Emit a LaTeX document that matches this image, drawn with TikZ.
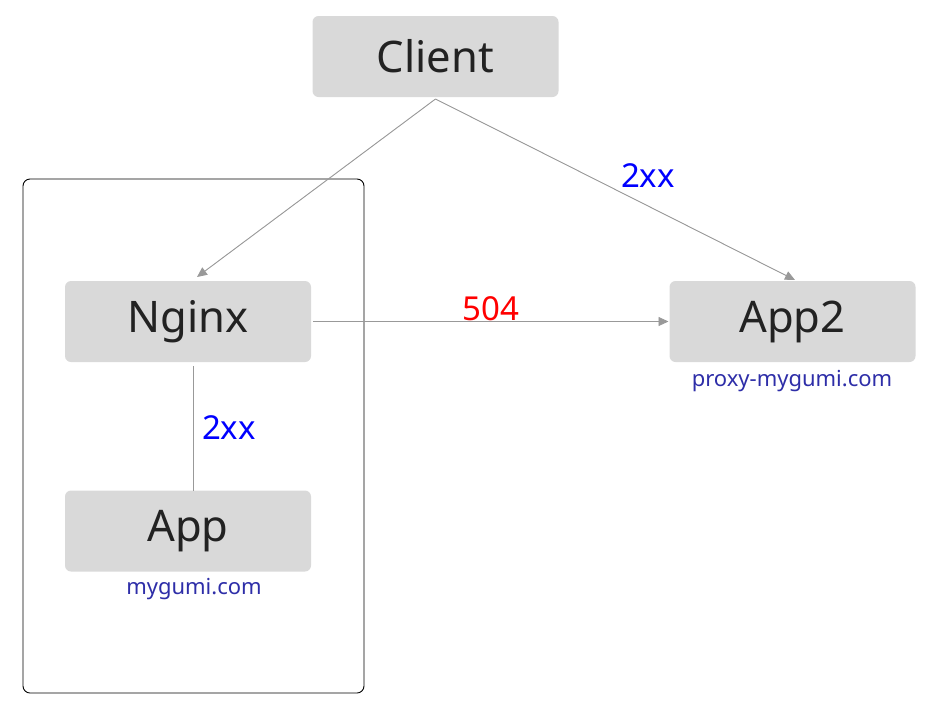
\documentclass[tikz,border=0pt]{standalone}
\usepackage{fontspec}
\setmainfont{Noto Sans}
\usetikzlibrary{arrows.meta,calc}
\definecolor{boxfill}{HTML}{D9D9D9}
\definecolor{boxtext}{HTML}{222222}
\definecolor{linegray}{HTML}{999999}
\definecolor{urlblue}{HTML}{2E2EA8}
\tikzset{
  svc/.style={fill=boxfill, rounded corners=6pt, minimum width=246pt, minimum height=81pt,
    text=boxtext, font=\fontsize{43.5}{50}\selectfont, inner sep=0pt, outer sep=0pt},
  conn/.style={draw=linegray, line width=0.9pt},
  arr/.style={conn, -{Triangle[length=10pt,width=9pt]}, fill=linegray},
  lbl/.style={font=\fontsize{33}{38}\selectfont, inner sep=0pt},
  url/.style={font=\fontsize{22}{26}\selectfont, text=urlblue, inner sep=0pt}
}
\begin{document}
\begin{tikzpicture}[x=1pt,y=-1pt]
\useasboundingbox (0,0) rectangle (934,710);
\node[draw=black, line width=0.9pt, rounded corners=7pt, minimum width=341pt, minimum height=514pt, inner sep=0pt] (frame) at (193.5,436) {};
\node[svc] (client) at (435.5,56.5) {Client};
\node[svc] (nginx) at (188,321.5) {Nginx};
\node[svc] (app) at (188,531) {App};
\node[svc] (app2) at (792.5,321.5) {App2};
\node[url] (appurl) at (194,589) {mygumi.com};
\node[url] (app2url) at (792,381) {proxy-mygumi.com};
\draw[arr] ([yshift=-2pt]client.south) -- ([xshift=9pt,yshift=4pt]nginx.north);
\draw[arr] ([yshift=-2pt]client.south) -- ([xshift=2.5pt,yshift=1pt]app2.north);
\draw[arr] ([xshift=2pt]nginx.east) -- ([xshift=-1pt]app2.west);
\draw[conn] ([xshift=5pt,yshift=-4pt]nginx.south) -- ([xshift=5pt]app.north);
\node[lbl, text=blue] (l1) at (648,176) {2xx};
\node[lbl, text=red] (l2) at (491,309) {504};
\node[lbl, text=blue] (l3) at (229,428) {2xx};
\end{tikzpicture}
\end{document}
